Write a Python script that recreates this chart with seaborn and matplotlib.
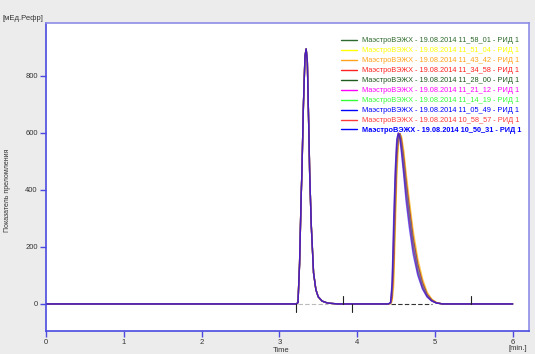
import matplotlib
matplotlib.use("Agg")
import matplotlib.pyplot as plt
import pandas as pd
import seaborn as sns

# run labels (legend order, top to bottom)
run_times = ["11_58_01", "11_51_04", "11_43_42", "11_34_58", "11_28_00",
             "11_21_12", "11_14_19", "11_05_49", "10_58_57", "10_50_31"]
run_colors = ["#2d6a2d", "#ffff00", "#ffa31a", "#ff2020", "#1e5a1e",
              "#ff00ff", "#33ff33", "#0000ff", "#ff3a3a", "#0000ff"]

# first peak - identical for all runs
t_peak1 = [0.0, 3.22, 3.24, 3.26, 3.28, 3.29, 3.31, 3.33, 3.345, 3.36,
           3.38, 3.39, 3.41, 3.44, 3.47, 3.50, 3.55, 3.62, 3.75, 4.30]
v_peak1 = [0, 0, 5, 140, 370, 460, 700, 870, 895, 850,
           600, 460, 280, 109, 50, 25, 10, 3, 0, 0]

# second peak - small drift between runs
t_peak2 = [4.40, 4.43, 4.45, 4.47, 4.49, 4.51, 4.53, 4.55, 4.57, 4.60,
           4.63, 4.67, 4.72, 4.78, 4.84, 4.90, 4.96, 5.02, 5.10, 6.0]
v_peak2 = {
    "11_58_01": [0, 2, 18, 110, 310, 490, 578, 598, 580, 520, 440, 348, 240, 145, 80, 36, 15, 4, 0, 0],
    "11_51_04": [0, 1, 12, 80, 280, 465, 568, 597, 585, 530, 450, 358, 250, 152, 85, 39, 16, 5, 0, 0],
    "11_43_42": [0, 1, 8, 60, 250, 440, 555, 595, 590, 540, 460, 370, 260, 160, 90, 42, 17, 5, 0, 0],
    "11_34_58": [0, 2, 22, 130, 330, 505, 584, 598, 576, 512, 432, 340, 232, 139, 76, 34, 14, 4, 0, 0],
    "11_28_00": [0, 3, 30, 160, 360, 522, 590, 597, 570, 503, 423, 331, 224, 133, 71, 32, 13, 4, 0, 0],
    "11_21_12": [0, 3, 38, 185, 385, 535, 593, 595, 565, 495, 413, 322, 216, 127, 67, 30, 12, 4, 0, 0],
    "11_14_19": [0, 4, 48, 210, 410, 548, 596, 592, 558, 485, 402, 312, 207, 120, 63, 28, 11, 3, 0, 0],
    "11_05_49": [0, 4, 58, 240, 435, 560, 598, 588, 550, 472, 390, 300, 198, 113, 59, 27, 11, 3, 0, 0],
    "10_58_57": [0, 5, 68, 270, 455, 572, 600, 584, 540, 462, 375, 285, 187, 106, 55, 25, 10, 3, 0, 0],
    "10_50_31": [0, 5, 80, 300, 470, 580, 600, 580, 530, 450, 360, 270, 175, 100, 52, 24, 10, 3, 0, 0],
}

# integration marks on the baseline: time, up(+1)/down(-1)
mark_times = [3.22, 3.82, 3.93, 5.47]
mark_dirs = [-1, 1, -1, 1]
baseline_segments = [(3.24, 3.62, "#bbbbbb"), (4.43, 4.96, "#333333")]

x_ticks = [0, 1, 2, 3, 4, 5, 6]
y_ticks = [0, 200, 400, 600, 800]

rows = []
for run in run_times:
    label = "МаэстроВЭЖХ - 19.08.2014 " + run + " - РИД 1"
    for t, v in zip(t_peak1 + t_peak2, v_peak1 + v_peak2[run]):
        rows.append({"time": t, "signal": v, "run": label})
df = pd.DataFrame(rows)
labels = list(df["run"].unique())

sns.set_style("white")
plt.rcParams["font.family"] = ["Liberation Sans", "DejaVu Sans"]

fig = plt.figure(figsize=(5.35, 3.54), dpi=100, facecolor="#ececec")
ax = fig.add_axes([46 / 535, 1 - 331 / 354, 483 / 535, 308 / 354])
ax.set_facecolor("white")

sns.lineplot(data=df, x="time", y="signal", hue="run", hue_order=labels,
             palette=dict(zip(labels, run_colors)), estimator=None,
             sort=False, linewidth=1.0, alpha=0.55, legend=False, ax=ax)

for x0, x1, c in baseline_segments:
    ax.plot([x0, x1], [0, 0], color=c, lw=0.8, ls=(0, (4, 2)), zorder=5)
for t, d in zip(mark_times, mark_dirs):
    ax.plot([t, t], [0, d * 28], color="#222222", lw=0.8, zorder=6)

ax.set_xlim(0, 6.21)
ax.set_ylim(-95, 986)
ax.set_xticks(x_ticks)
ax.set_yticks(y_ticks)
ax.tick_params(axis="both", which="major", length=4, width=1.0,
               color="#4a4ae0", labelsize=5.5, labelcolor="#333333", pad=2,
               direction="out", bottom=True, left=True)
ax.tick_params(axis="x", pad=1.5)
for side in ["left", "bottom"]:
    ax.spines[side].set_color("#4a4ae0")
    ax.spines[side].set_linewidth(1.2)
for side in ["top", "right"]:
    ax.spines[side].set_color("#8c8ce6")
    ax.spines[side].set_linewidth(1.2)
ax.set_xlabel("")
ax.set_ylabel("")

fig.text(281 / 535, 1 - 350 / 354, "Time", fontsize=5.5, color="#333333",
         ha="center", va="center")
fig.text(518 / 535, 1 - 345.5 / 354, "[min.]", fontsize=5.5, color="#333333",
         ha="center", va="top")
fig.text(23 / 535, 1 - 19 / 354, "[мЕд.Рефр]", fontsize=5.5, color="#333333",
         ha="center", va="center")
fig.text(8 / 535, 1 - 190 / 354, "Показатель преломления", fontsize=5,
         color="#333333", rotation=90, ha="center", va="center")

handles = ax.get_lines()[:len(labels)]
leg = ax.legend(handles, labels, loc="upper left",
                bbox_to_anchor=(0.605, 0.963), frameon=False, fontsize=5.3,
                labelspacing=0.38, handlelength=2.2, handletextpad=0.6,
                borderaxespad=0)
for txt, c in zip(leg.get_texts(), run_colors):
    txt.set_color(c)
leg.get_texts()[-1].set_fontweight("bold")
for ln in leg.get_lines():
    ln.set_alpha(1)

fig.savefig("out.png", dpi=100, facecolor=fig.get_facecolor())
